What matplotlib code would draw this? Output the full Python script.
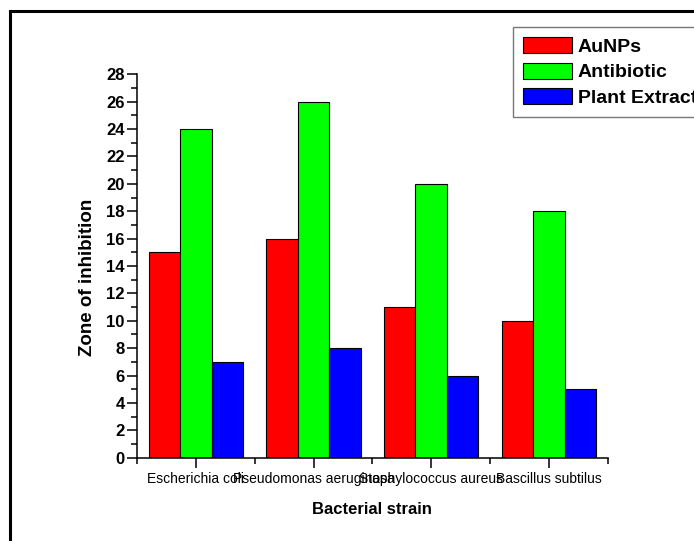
import numpy as np
import matplotlib
matplotlib.use("Agg")
import matplotlib.pyplot as plt
from matplotlib.patches import Rectangle
from matplotlib.ticker import MultipleLocator

plt.rcParams['font.family'] = ['Liberation Sans', 'DejaVu Sans']

categories = ["Escherichia coli", "Pseudomonas aeruginosa", "Staphylococcus aureus", "Bascillus subtilus"]
series_names = ["AuNPs", "Antibiotic", "Plant Extract"]
aunps = [15, 16, 11, 10]
antibiotic = [24, 26, 20, 18]
plant_extract = [7, 8, 6, 5]
colors = ["#ff0000", "#00ff00", "#0000ff"]
y_ticks = list(range(0, 29, 2))

W, H = 694, 541
fig = plt.figure(figsize=(W / 100, H / 100), dpi=100)
ax = fig.add_axes([137 / W, 1 - 457.7 / H, (607.7 - 137) / W, (457.7 - 74.3) / H])

x = np.arange(1, len(categories) + 1)
bw = 0.8 / 3
for i, (vals, name, c) in enumerate(zip([aunps, antibiotic, plant_extract], series_names, colors)):
    ax.bar(x + (i - 1) * bw, vals, width=bw, color=c, edgecolor="black", linewidth=0.8, label=name)

ax.set_xlim(0.5, 4.5)
ax.set_ylim(0, 28)
ax.set_xticks(x)
ax.set_xticklabels(categories, fontsize=10)
ax.xaxis.set_minor_locator(MultipleLocator(0.5))
ax.set_yticks(y_ticks)
ax.yaxis.set_minor_locator(MultipleLocator(1))
for lab in ax.get_yticklabels():
    lab.set_fontweight("bold")
    lab.set_fontsize(12)

for s in ["top", "right"]:
    ax.spines[s].set_visible(False)
for s in ["left", "bottom"]:
    ax.spines[s].set_linewidth(1.1)
ax.tick_params(axis="both", which="major", direction="out", length=7, width=1.1)
ax.tick_params(axis="both", which="minor", direction="out", length=4, width=1.1)
ax.tick_params(axis="x", pad=3)
ax.tick_params(axis="y", pad=2)

ax.set_xlabel("Bacterial strain", fontsize=12, fontweight="bold")
ax.xaxis.set_label_coords(0.5, -0.115)
ax.set_ylabel("Zone of inhibition", fontsize=13.5, fontweight="bold")
ax.yaxis.set_label_coords(-0.087, 0.47)

leg = ax.legend(loc="upper left", bbox_to_anchor=(513 / W, 1 - 27 / H), bbox_transform=fig.transFigure,
                prop={"weight": "bold", "size": 14}, frameon=True, fancybox=False,
                edgecolor="#555555", handlelength=2.5, handleheight=0.9, labelspacing=0.34,
                handletextpad=0.3, borderpad=0.52, borderaxespad=0)
leg.get_frame().set_linewidth(1.0)

# outer frame
fig.patches.append(Rectangle((9.5 / W, -0.1), 1.2, 1 - 11 / H + 0.1, transform=fig.transFigure,
                             fill=False, edgecolor="black", linewidth=2.2))

fig.savefig("out.png", dpi=100)
